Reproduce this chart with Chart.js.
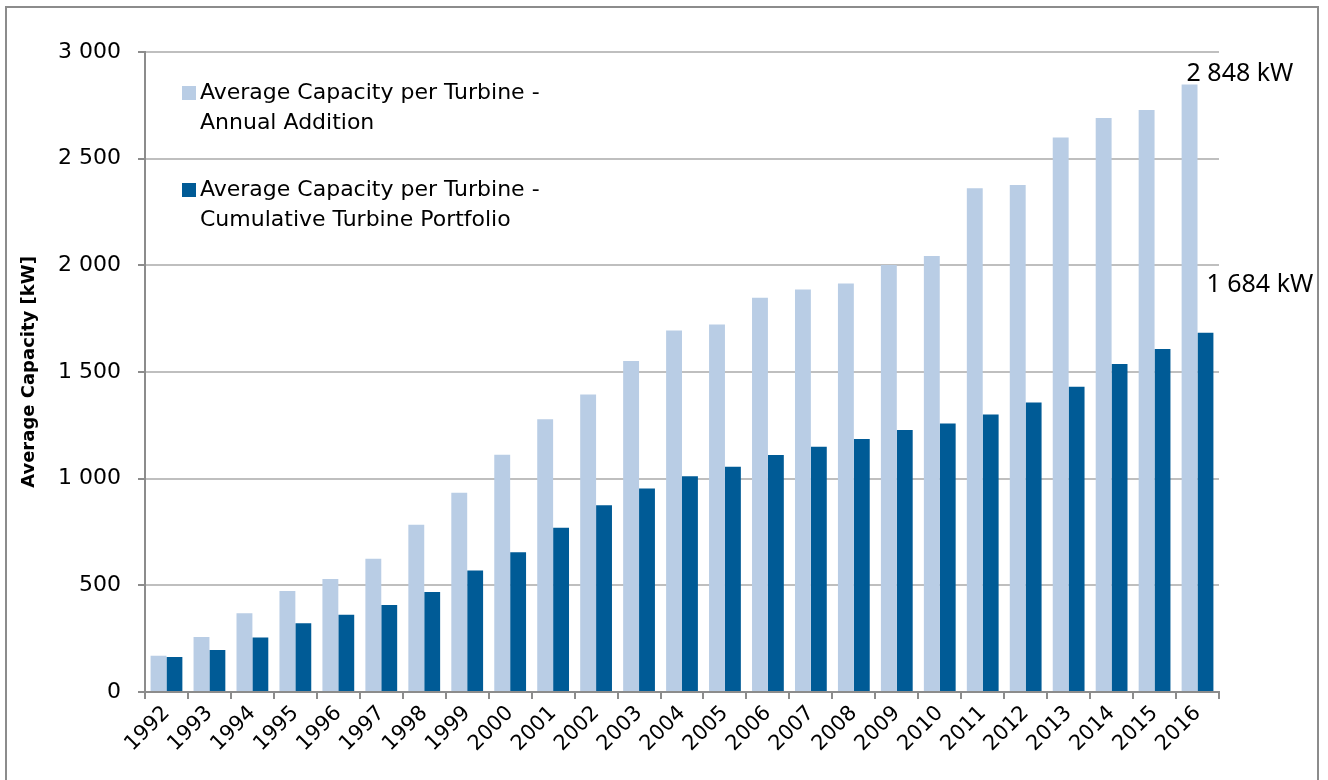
<!DOCTYPE html>
<html>
<head>
<meta charset="utf-8">
<script src="https://cdn.jsdelivr.net/npm/chart.js@4"></script>
<style>
  body { margin: 0; background: #fff; }
  #wrap { position: relative; width: 1328px; height: 780px; }
</style>
</head>
<body>
<div id="wrap"><canvas id="capChart"></canvas></div>
<script>
// data
const years = ['1992', '1993', '1994', '1995', '1996', '1997', '1998', '1999', '2000', '2001', '2002', '2003',
    '2004', '2005', '2006', '2007', '2008', '2009', '2010', '2011', '2012', '2013', '2014', '2015', '2016'];
const annualAddition = [170, 258, 369, 473, 530, 625, 784, 934, 1112, 1278, 1395, 1552,
    1694, 1723, 1848, 1887, 1915, 2001, 2044, 2361, 2377, 2599, 2691, 2728, 2848];
const cumulativePortfolio = [164, 197, 255, 322, 362, 408, 469, 569, 655, 770, 875, 954,
    1011, 1056, 1111, 1150, 1186, 1228, 1259, 1301, 1357, 1431, 1538, 1608, 1684];
const seriesNames = [
    ['Average Capacity per Turbine -', 'Annual Addition'],
    ['Average Capacity per Turbine -', 'Cumulative Turbine Portfolio']
];
const yTicks = [0, 500, 1000, 1500, 2000, 2500, 3000];
const yTitle = 'Average Capacity [kW]';

const mainFont = '"DejaVu Sans", sans-serif';
const gridGray = '#bfbfbf';
const axisGray = '#8c8c8c';

function fmt(v) {
    return String(v).replace(/\B(?=(\d{3})+(?!\d))/g, ' ');
}

// frame round the whole picture
const framePlugin = {
    id: 'frame',
    beforeDraw(chart) {
        const ctx = chart.ctx;
        ctx.save();
        ctx.fillStyle = '#fff';
        ctx.fillRect(0, 0, chart.width, chart.height);
        ctx.strokeStyle = axisGray;
        ctx.lineWidth = 2;
        ctx.strokeRect(6, 7, 1312, 800);
        ctx.restore();
    }
};

// legend inside the plot, two lines per entry
const boxLegend = {
    id: 'boxLegend',
    afterDraw(chart) {
        const ctx = chart.ctx;
        const area = chart.chartArea;
        const rows = [41, 138];
        ctx.save();
        ctx.font = '22px ' + mainFont;
        ctx.textBaseline = 'middle';
        ctx.fillStyle = '#000';
        chart.data.datasets.forEach((ds, i) => {
            const y = area.top + rows[i];
            ctx.fillStyle = ds.backgroundColor;
            ctx.fillRect(area.left + 37, y - 7, 14, 14);
            ctx.fillStyle = '#000';
            ds.label.forEach((line, j) => {
                ctx.fillText(line, area.left + 55, y + j * 30);
            });
        });
        ctx.restore();
    }
};

// value labels on the last year
const lastLabels = {
    id: 'lastLabels',
    afterDatasetsDraw(chart) {
        const ctx = chart.ctx;
        const last = years.length - 1;
        const light = chart.getDatasetMeta(0).data[last];
        const dark = chart.getDatasetMeta(1).data[last];
        ctx.save();
        ctx.font = '25px "Noto Sans", sans-serif';
        ctx.fillStyle = '#000';
        ctx.textAlign = 'left';
        ctx.textBaseline = 'alphabetic';
        ctx.fillText(fmt(annualAddition[last]) + ' kW', light.x - 3, light.y - 3);
        ctx.fillText(fmt(cumulativePortfolio[last]) + ' kW', dark.x + 1, dark.y - 41);
        ctx.restore();
    }
};

new Chart(document.getElementById('capChart'), {
    type: 'bar',
    data: {
        labels: years,
        datasets: [{
            label: seriesNames[0],
            data: annualAddition,
            backgroundColor: '#b9cde5',
            categoryPercentage: 0.74,
            barPercentage: 1
        }, {
            label: seriesNames[1],
            data: cumulativePortfolio,
            backgroundColor: '#005b96',
            categoryPercentage: 0.74,
            barPercentage: 1
        }]
    },
    options: {
        responsive: true,
        maintainAspectRatio: false,
        animation: false,
        layout: { padding: { left: 0, right: 109, top: 52, bottom: 0 } },
        plugins: {
            legend: { display: false },
            tooltip: { enabled: false }
        },
        scales: {
            x: {
                grid: {
                    drawOnChartArea: false,
                    drawTicks: true,
                    tickLength: 7,
                    tickColor: axisGray,
                    lineWidth: 2
                },
                border: { display: true, color: axisGray, width: 2 },
                ticks: {
                    color: '#000',
                    font: { family: mainFont, size: 21 },
                    minRotation: 45,
                    maxRotation: 45,
                    autoSkip: false,
                    padding: 2
                },
                afterFit(scale) { scale.height = 88; }
            },
            y: {
                min: 0,
                max: 3000,
                afterBuildTicks(scale) {
                    scale.ticks = yTicks.map(v => ({ value: v }));
                },
                grid: {
                    color: gridGray,
                    lineWidth: 2,
                    tickColor: axisGray,
                    tickLength: 7
                },
                border: { display: true, color: axisGray, width: 2 },
                ticks: {
                    color: '#000',
                    font: { family: mainFont, size: 22 },
                    padding: 17,
                    callback: v => fmt(v)
                },
                title: {
                    display: true,
                    text: yTitle,
                    color: '#000',
                    font: { family: mainFont, size: 18, weight: 'bold' },
                    padding: { top: 19, bottom: 0 }
                },
                afterFit(scale) { scale.width = 145; }
            }
        }
    },
    plugins: [framePlugin, boxLegend, lastLabels]
});
</script>
</body>
</html>
